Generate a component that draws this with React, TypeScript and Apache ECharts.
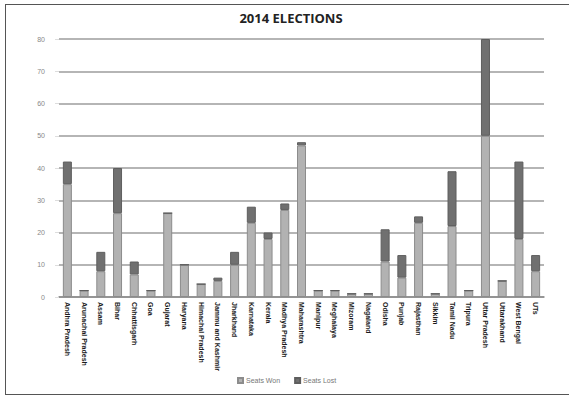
import React, { useEffect, useRef } from "react";
import * as echarts from "echarts";

// Lok Sabha seats per state, split into the two stacked groups
const states = [
  "Andhra Pradesh", "Arunachal Pradesh", "Assam", "Bihar", "Chhattisgarh", "Goa",
  "Gujarat", "Haryana", "Himachal Pradesh", "Jammu and Kashmir", "Jharkhand",
  "Karnataka", "Kerala", "Madhya Pradesh", "Maharashtra", "Manipur", "Meghalaya",
  "Mizoram", "Nagaland", "Odisha", "Punjab", "Rajasthan", "Sikkim", "Tamil Nadu",
  "Tripura", "Uttar Pradesh", "Uttarakhand", "West Bengal", "UTs",
];

const seatsWon = [
  35, 2, 8, 26, 7, 2, 26, 10, 4, 5, 10, 23, 18, 27, 47, 2, 2, 1, 1, 11, 6, 23, 1, 22, 2, 50, 5, 18, 8,
];

const seatsLost = [
  7, 0, 6, 14, 4, 0, 0, 0, 0, 1, 4, 5, 2, 2, 1, 0, 0, 0, 0, 10, 7, 2, 0, 17, 0, 30, 0, 24, 5,
];

const seriesNames = ["Seats Won", "Seats Lost"];
const yTicks = { min: 0, max: 80, interval: 10 };

export default function App() {
  const ref = useRef<HTMLDivElement>(null);

  useEffect(() => {
    document.body.style.margin = "0";
    if (!ref.current) return;
    const chart = echarts.init(ref.current, null, { renderer: "svg" });
    chart.setOption({
      animation: false,
      backgroundColor: "#ffffff",
      textStyle: { fontFamily: "Liberation Sans" },
      graphic: [
        {
          type: "text",
          x: 291,
          y: 18,
          style: {
            text: "2014 ELECTIONS",
            font: "bold 13px 'Open Sans'",
            fill: "#222",
            textAlign: "center",
            textVerticalAlign: "middle",
          },
        },
      ],
      legend: {
        left: 232,
        top: 372,
        itemWidth: 5,
        itemHeight: 5,
        itemGap: 14,
        icon: "rect",
        textStyle: { fontSize: 7, color: "#777", padding: [0, 0, 0, -2] },
        data: seriesNames,
      },
      grid: { left: 59, right: 25, top: 39, bottom: 98, containLabel: false },
      xAxis: {
        type: "category",
        data: states,
        axisLine: { show: true, lineStyle: { color: "#8a8a8a", width: 1.5 } },
        axisTick: { show: false },
        axisLabel: {
          rotate: -90,
          interval: 0,
          fontSize: 7,
          fontWeight: "bold",
          color: "#1a1a1a",
          margin: 5,
        },
      },
      yAxis: {
        type: "value",
        min: yTicks.min,
        max: yTicks.max,
        interval: yTicks.interval,
        axisLine: { show: false },
        axisTick: { show: true, length: 4, lineStyle: { color: "#ddd" } },
        axisLabel: { fontSize: 7, color: "#888", margin: 14 },
        splitLine: { lineStyle: { color: "#9c9c9c", width: 1.5 } },
      },
      series: [
        {
          name: seriesNames[0],
          type: "bar",
          stack: "seats",
          barWidth: 9,
          data: seatsWon,
          itemStyle: { color: "#b2b2b2", borderColor: "#8c8c8c", borderWidth: 1 },
        },
        {
          name: seriesNames[1],
          type: "bar",
          stack: "seats",
          barWidth: 9,
          data: seatsLost,
          itemStyle: { color: "#707070", borderColor: "#5e5e5e", borderWidth: 1 },
        },
      ],
    });
    return () => chart.dispose();
  }, []);

  return (
    <div style={{ position: "fixed", left: 0, top: 0, width: 569, height: 395, background: "#fff" }}>
      <div ref={ref} style={{ position: "absolute", left: 0, top: 0, width: 569, height: 395 }} />
      <div
        style={{
          position: "absolute",
          left: 5,
          top: 4,
          width: 580,
          height: 389,
          borderLeft: "1.5px solid #555",
          borderTop: "1.5px solid #555",
          borderBottom: "1.5px solid #555",
          pointerEvents: "none",
        }}
      />
    </div>
  );
}
